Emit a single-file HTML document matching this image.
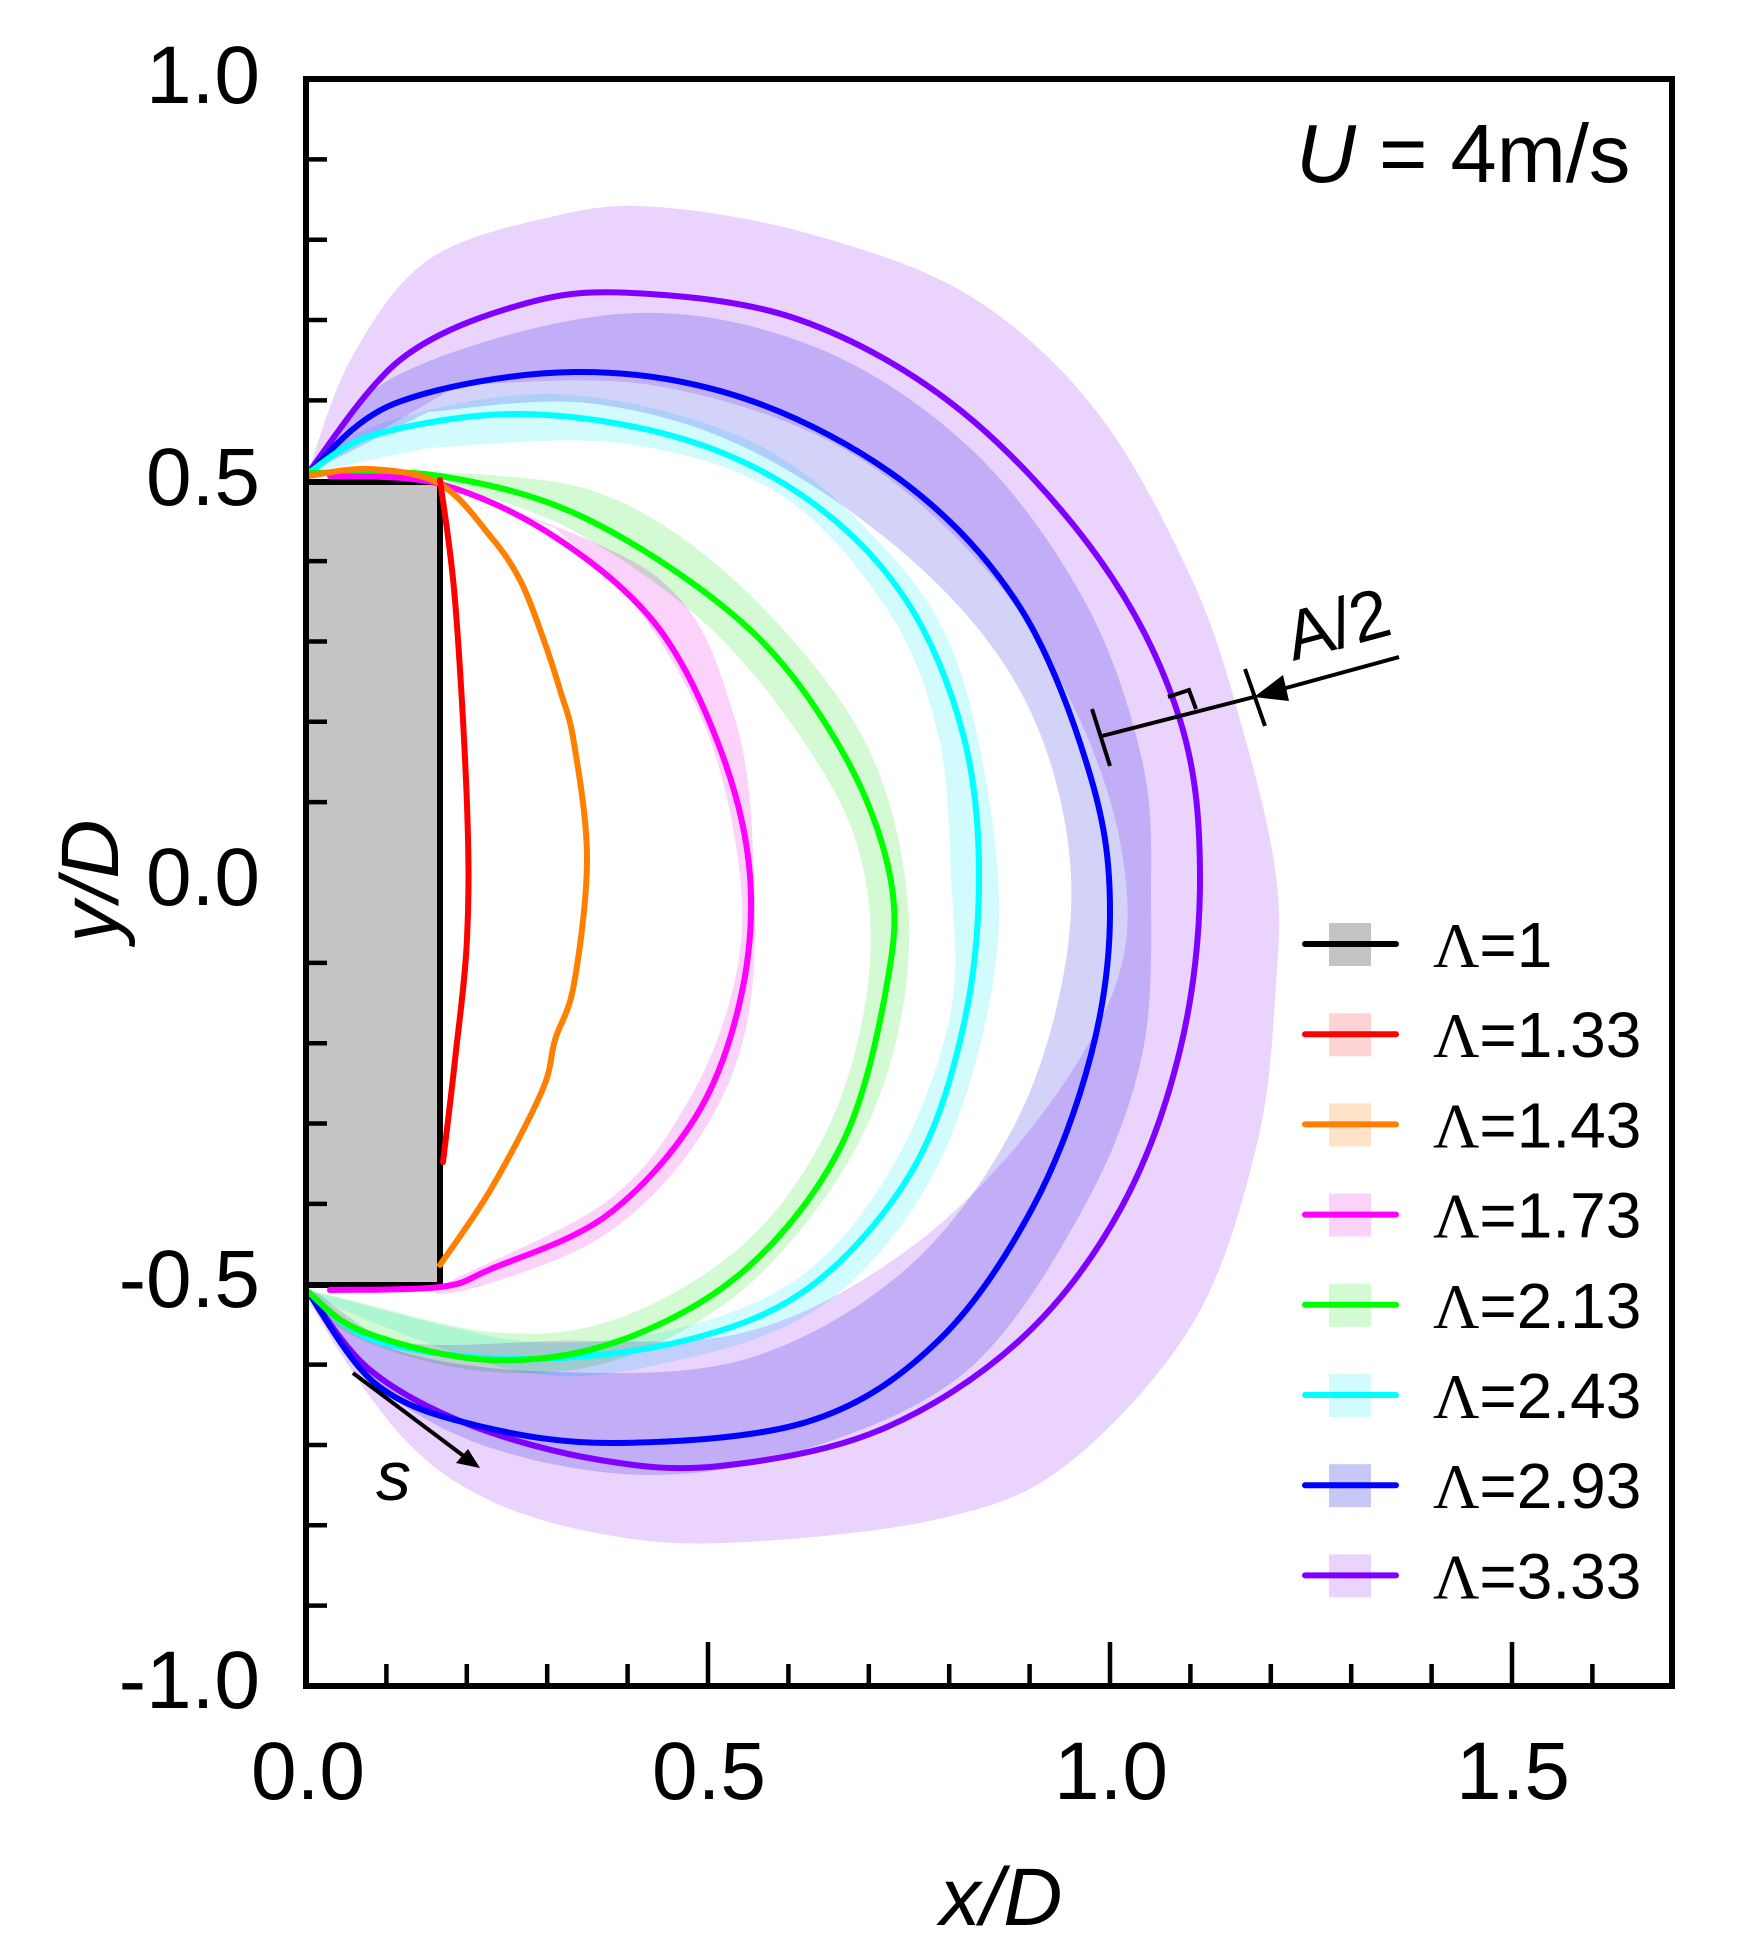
<!DOCTYPE html>
<html><head><meta charset="utf-8"><style>
html,body{margin:0;padding:0;background:#fff;}
svg{display:block;}
text{font-family:"Liberation Sans",sans-serif;}
</style></head><body>
<svg id="s" width="1744" height="1944" viewBox="0 0 1744 1944" xmlns="http://www.w3.org/2000/svg">
<g id="bands" style="isolation:isolate"></g>
<rect x="306" y="482" width="134" height="803" fill="#c4c4c4" stroke="#000" stroke-width="6"/>
<g id="lines" fill="none" stroke-width="6" stroke-linecap="round" stroke-linejoin="round"></g>
<g stroke="#000" stroke-width="6" fill="none">
<rect x="306" y="79" width="1366" height="1607"/>
</g>
<g id="ticks" stroke="#000" stroke-width="4.5"></g>
<g font-size="82" fill="#000">
<text x="260" y="103" text-anchor="end">1.0</text>
<text x="260" y="505" text-anchor="end">0.5</text>
<text x="260" y="905" text-anchor="end">0.0</text>
<text x="260" y="1307" text-anchor="end">-0.5</text>
<text x="260" y="1708" text-anchor="end">-1.0</text>
<text x="308" y="1799" text-anchor="middle">0.0</text>
<text x="709" y="1799" text-anchor="middle">0.5</text>
<text x="1111" y="1799" text-anchor="middle">1.0</text>
<text x="1513" y="1799" text-anchor="middle">1.5</text>
<text x="1001" y="1925" text-anchor="middle" font-style="italic">x/D</text>
<text transform="translate(118,881) rotate(-90)" text-anchor="middle" font-style="italic">y/D</text>
<text x="1296" y="182" font-size="83"><tspan font-style="italic">U</tspan> = 4m/s</text>
</g>
<line x1="353" y1="1373" x2="465" y2="1457" stroke="#000" stroke-width="4"/>
<polygon points="480,1468 456,1463 468,1449" fill="#000"/>
<text x="376" y="1500" font-size="70" font-style="italic">s</text>
<g stroke="#000" stroke-width="4" fill="none">
<line x1="1102" y1="736" x2="1254" y2="697"/>
<line x1="1092" y1="709" x2="1110" y2="766"/>
<line x1="1245" y1="669" x2="1265" y2="726"/>
<polyline points="1168,697 1189,690 1196,709"/>
<line x1="1399" y1="657" x2="1275" y2="691"/>
</g>
<polygon points="1254,697 1283,675 1289,701" fill="#000"/>
<text transform="translate(1293,661) rotate(-15)" font-size="70">A/2</text>
<g id="legend"></g>
</svg>
<script>
function cr(p,closed){
 let d="M"+p[0][0]+","+p[0][1];
 for(let i=0;i<p.length-1;i++){
  const p0=p[i-1]||p[i],p1=p[i],p2=p[i+1],p3=p[i+2]||p[i+1];
  const c1=[p1[0]+(p2[0]-p0[0])/6,p1[1]+(p2[1]-p0[1])/6];
  const c2=[p2[0]-(p3[0]-p1[0])/6,p2[1]-(p3[1]-p1[1])/6];
  d+=" C"+c1.join(",")+" "+c2.join(",")+" "+p2.join(",");
 }
 return d+(closed?" Z":"");
}
const NS="http://www.w3.org/2000/svg";
function add(g,tag,attrs){const e=document.createElementNS(NS,tag);for(const k in attrs)e.setAttribute(k,attrs[k]);document.getElementById(g).appendChild(e);return e;}
function band(outer,inner,col){add("bands","path",{d:cr(outer.concat(inner),true),fill:col,style:"mix-blend-mode:multiply"});}
band([[308,473],[351,359],[428,260],[555,216],[657,207],[810,234],[970,296],[1097,412],[1193,582],[1244,734],[1276,876],[1276,984],[1257,1144],[1193,1323],[1065,1466],[938,1519],[746,1542],[619,1537],[491,1501],[396,1430],[308,1292]],
 [[396,1341],[555,1341],[746,1332],[906,1251],[1033,1126],[1116,984],[1123,859],[1078,716],[989,573],[842,448],[651,385],[459,385]],"#ead3fc");
band([[308,473],[396,376],[619,314],[810,345],[970,448],[1084,600],[1142,760],[1151,894],[1142,1055],[1084,1207],[970,1368],[810,1448],[651,1475],[491,1448],[377,1385],[308,1292]],
 [[396,1350],[555,1372],[746,1359],[906,1269],[1014,1126],[1065,966],[1065,823],[1014,680],[906,555],[746,448],[587,403],[428,412]],"#d3d3fa");
band([[308,473],[377,425],[555,394],[746,439],[874,537],[957,662],[998,876],[982,1037],[925,1189],[823,1305],[683,1359],[523,1372],[308,1292]],
 [[523,1341],[683,1327],[810,1269],[900,1153],[951,1010],[951,876],[938,734],[887,609],[778,493],[619,443],[428,448]],"#d2fbfe");
band([[308,473],[491,475],[619,501],[746,591],[861,734],[906,885],[899,1028],[848,1162],[746,1287],[619,1359],[491,1372],[364,1341],[308,1292]],
 [[491,1332],[619,1318],[746,1242],[829,1126],[868,984],[861,859],[810,751],[708,626],[568,528],[440,484]],"#d3fad3");
band([[440,484],[657,577],[734,716],[754,876],[746,1028],[695,1144],[606,1234],[491,1283],[440,1287]],
 [[606,1202],[689,1100],[734,984],[740,876],[708,734],[638,609],[555,528]],"#fad2fa");
function line(p,c){add("lines","path",{d:cr(p),stroke:c});}
line([[308,473],[400,360],[520,305],[632,293],[800,320],[960,410],[1100,560],[1180,720],[1200,880],[1180,1050],[1120,1210],[1020,1340],[880,1430],[720,1466],[600,1460],[470,1425],[370,1370],[308,1292]],"#8000ff");
line([[308,473],[396,403],[574,372],[746,399],[906,484],[1021,609],[1091,778],[1110,912],[1091,1055],[1033,1207],[938,1341],[810,1421],[619,1443],[479,1426],[377,1385],[308,1292]],"#0000ff");
line([[308,473],[377,434],[523,414],[683,439],[810,501],[906,600],[963,734],[979,876],[963,1028],[912,1171],[810,1287],[683,1341],[523,1359],[377,1341],[308,1292]],"#00ffff");
line([[308,473],[440,476],[587,519],[746,626],[842,751],[890,876],[887,984],[842,1144],[746,1269],[619,1341],[491,1360],[364,1332],[308,1292]],"#00ff00");
line([[330,476],[440,484],[555,537],[657,626],[721,751],[750,876],[740,1001],[695,1118],[606,1216],[491,1269],[440,1287],[330,1290]],"#ff00ff");
line([[308,476],[370,469],[440,484],[491,537],[520,580],[542,635],[560,690],[574,743],[587,859],[574,984],[555,1040],[542,1091],[491,1189],[440,1265]],"#ff8000");
line([[440,480],[455,600],[467,805],[467,939],[455,1060],[443,1162]],"#ff0000");
for(let i=-9;i<=9;i++){ if(i%5===0)continue; const y=882.5-80.35*i; add("ticks","line",{x1:306,y1:y,x2:327,y2:y});}
for(let i=1;i<17;i++){ const x=306+80.4*i; const len=(i%5===0)?44:22; add("ticks","line",{x1:x,y1:1686,x2:x,y2:1686-len});}
const L=[["#000","#c4c4c4","1"],["#ff0000","#fdd3d3","1.33"],["#ff8000","#fde3c8","1.43"],["#ff00ff","#fad2fa","1.73"],["#00ff00","#d3fad3","2.13"],["#00ffff","#d2fbfe","2.43"],["#0000ff","#c8c8f8","2.93"],["#8000ff","#ead3fc","3.33"]];
L.forEach((r,i)=>{const y=944+90.2*i;
 add("legend","rect",{x:1329,y:y-21,width:42,height:43,fill:r[1]});
 add("legend","line",{x1:1305,y1:y,x2:1396,y2:y,stroke:r[0],"stroke-width":6,"stroke-linecap":"round"});
 const t=add("legend","text",{x:1433,y:y+23,"font-size":64});
 t.innerHTML='<tspan font-family="Liberation Serif,serif">Λ</tspan>='+r[2];
});
</script>
</body></html>
